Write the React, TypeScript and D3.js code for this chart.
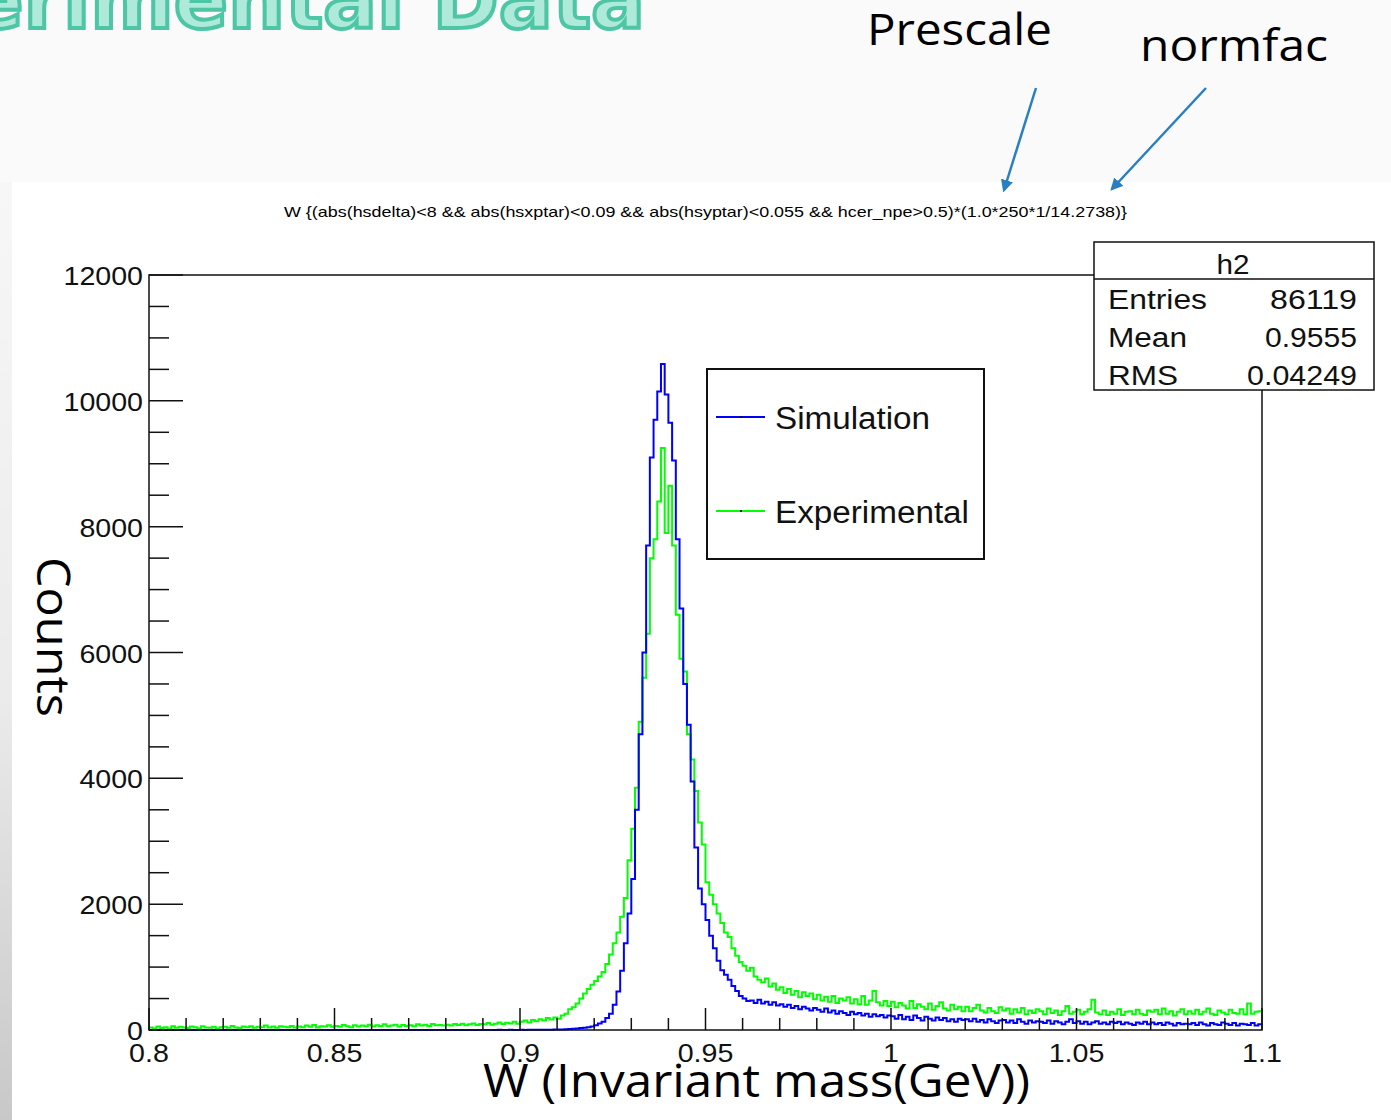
import * as d3 from "d3";
import React, { useEffect } from "react";

const width = 1391;
const height = 1120;

// histogram range, 1 MeV bins
const wMin = 0.8;
const wMax = 1.1;
const binWidth = 0.001;

// Simulation counts (blue), 300 bins from 0.800 to 1.100 GeV
const simulation = [
  0, 0, 0, 0, 0, 0, 0, 0, 0, 0,
  0, 0, 0, 0, 0, 0, 0, 0, 0, 0,
  0, 0, 0, 0, 0, 0, 0, 0, 0, 0,
  0, 0, 0, 0, 0, 0, 0, 0, 0, 0,
  0, 0, 0, 0, 0, 0, 0, 0, 0, 0,
  0, 0, 0, 0, 0, 0, 0, 0, 0, 0,
  0, 0, 0, 0, 0, 0, 0, 0, 0, 0,
  0, 0, 0, 0, 0, 0, 1, 0, 0, 0,
  0, 1, 0, 0, 0, 1, 0, 0, 1, 0,
  1, 0, 1, 0, 2, 1, 0, 2, 1, 1,
  2, 1, 3, 2, 3, 4, 3, 5, 4, 6,
  8, 9, 12, 14, 18, 24, 30, 34, 42, 55,
  75, 105, 130, 190, 260, 400, 610, 940, 1380, 1850,
  2400, 3500, 4700, 6000, 7700, 9100, 9700, 10150, 10585, 10100,
  9650, 9050, 7800, 6700, 5500, 4850, 3950, 2900, 2250, 2000,
  1750, 1500, 1300, 1100, 950, 880, 800, 700, 620, 540,
  500, 460, 470, 430, 480, 420, 450, 400, 440, 390,
  410, 370, 400, 350, 380, 330, 370, 340, 310, 350,
  320, 290, 340, 280, 310, 260, 300, 270, 240, 290,
  250, 270, 230, 260, 210, 250, 220, 240, 200, 230,
  220, 180, 240, 170, 210, 160, 230, 190, 150, 210,
  180, 150, 200, 160, 190, 140, 170, 130, 180, 160,
  170, 140, 180, 130, 160, 120, 170, 140, 110, 150,
  160, 120, 150, 110, 170, 130, 100, 150, 120, 140,
  130, 110, 150, 100, 140, 120, 90, 130, 170, 110,
  140, 100, 130, 90, 120, 140, 100, 120, 90, 130,
  110, 130, 90, 120, 100, 80, 120, 100, 130, 90,
  120, 90, 110, 80, 120, 100, 70, 110, 90, 100,
  90, 110, 80, 120, 90, 70, 110, 90, 80, 120,
  100, 80, 110, 70, 100, 90, 80, 110, 70, 90,
];

// Experimental counts (green), same binning
const experimental = [
  40, 25, 55, 30, 45, 20, 60, 35, 50, 40,
  30, 55, 45, 25, 60, 40, 35, 50, 20, 45,
  50, 35, 65, 40, 30, 55, 45, 60, 35, 50,
  45, 70, 40, 55, 35, 60, 50, 45, 65, 40,
  55, 45, 70, 50, 80, 40, 60, 55, 75, 50,
  65, 50, 80, 60, 45, 75, 55, 70, 60, 85,
  55, 75, 65, 90, 60, 70, 85, 55, 80, 65,
  75, 60, 90, 70, 85, 65, 95, 75, 80, 70,
  85, 70, 95, 80, 100, 75, 90, 105, 80, 95,
  90, 110, 85, 100, 120, 95, 115, 105, 130, 100,
  130, 150, 120, 160, 140, 170, 150, 190, 165, 200,
  180, 230, 260, 330, 360, 420, 500, 580, 650, 720,
  780, 850, 920, 1050, 1200, 1380, 1550, 1800, 2100, 2700,
  3200, 3850, 4900, 5600, 6300, 7500, 7800, 8400, 9250, 7900,
  8650, 7700, 6600, 5900, 5700, 4700, 4300, 3800, 3300, 2950,
  2350, 2150, 2000, 1850, 1700, 1550, 1480, 1300, 1180, 1080,
  1020, 940, 990, 850, 800, 760, 820, 690, 740, 640,
  680, 590, 650, 560, 620, 520, 600, 540, 580, 490,
  560, 470, 530, 450, 540, 430, 500, 470, 520, 420,
  490, 410, 540, 400, 470, 620, 440, 390, 460, 380,
  450, 360, 430, 390, 340, 460, 350, 410, 370, 330,
  420, 320, 380, 440, 340, 310, 400, 330, 370, 300,
  370, 300, 350, 400, 310, 280, 350, 300, 270, 360,
  310, 340, 260, 330, 280, 350, 250, 310, 270, 330,
  300, 250, 340, 270, 310, 240, 300, 380, 260, 290,
  320, 250, 290, 330, 480, 280, 250, 310, 240, 290,
  260, 330, 240, 290, 300, 250, 320, 260, 240, 310,
  290, 320, 250, 340, 260, 300, 230, 290, 330, 250,
  300, 260, 320, 250, 290, 340, 260, 240, 310, 280,
  250, 320, 270, 260, 330, 250, 420, 260, 290, 300,
];

const xTicks = [0.8, 0.85, 0.9, 0.95, 1, 1.05, 1.1];
const xTickLabels = ["0.8", "0.85", "0.9", "0.95", "1", "1.05", "1.1"];
const yTicks = [0, 2000, 4000, 6000, 8000, 10000, 12000];
const yTickLabels = ["0", "2000", "4000", "6000", "8000", "10000", "12000"];

const statNames = ["Entries", "Mean", "RMS"];
const statValues = ["86119", "0.9555", "0.04249"];

const legendLabels = ["Simulation", "Experimental"];
const legendColors = ["#0000ff", "#00ff00"];

const titleText =
  "W {(abs(hsdelta)<8 && abs(hsxptar)<0.09 && abs(hsyptar)<0.055 && hcer_npe>0.5)*(1.0*250*1/14.2738)}";

// rough helvetica advance widths, used to stretch text like the ROOT export
const helvWidth = (s: string) =>
  s.split("").reduce((a, c) => a + (c === "." ? 0.278 : 0.556), 0);

const App = () => {
  useEffect(() => {
    document.body.style.margin = "0";
    document.body.style.overflow = "hidden";
  }, []);

  const x = d3.scaleLinear().domain([wMin, wMax]).range([149, 1262]);
  const y = d3.scaleLinear().domain([0, 12000]).range([1030, 275]);

  const stepLine = d3
    .line<[number, number]>()
    .x((d) => x(d[0]))
    .y((d) => y(d[1]))
    .curve(d3.curveStepAfter);

  const histPath = (vals: number[]) =>
    stepLine([
      ...vals.map((v, i) => [wMin + i * binWidth, v] as [number, number]),
      [wMax, vals[vals.length - 1]],
    ]) || "";

  const xMinor = d3
    .range(0, 31)
    .filter((i) => i % 5 !== 0)
    .map((i) => wMin + i * 0.01);
  const yMinor = d3
    .range(0, 25)
    .filter((i) => i % 4 !== 0)
    .map((i) => i * 500);

  const helv = "'Liberation Sans', Arial, sans-serif";
  const slide = "'Open Sans', 'DejaVu Sans', sans-serif";
  const tickSize = 26;

  return (
    <svg width={width} height={height} style={{ display: "block" }}>
      <defs>
        <linearGradient id="strip" x1="0" y1="0" x2="0" y2="1">
          <stop offset="0" stopColor="#f7f7f7" />
          <stop offset="0.55" stopColor="#ebebeb" />
          <stop offset="1" stopColor="#c8c8c8" />
        </linearGradient>
        <marker
          id="arrow"
          viewBox="0 0 10 10"
          refX="8"
          refY="5"
          markerWidth="5"
          markerHeight="5"
          orient="auto"
        >
          <path d="M0,0 L10,5 L0,10 z" fill="#2a7fc0" />
        </marker>
      </defs>

      {/* slide background */}
      <rect width={width} height={height} fill="#fafafa" />
      <rect x={0} y={182} width={12} height={height - 182} fill="url(#strip)" />
      <rect x={12} y={182} width={width - 12} height={height - 182} fill="#ffffff" />

      <text
        x={645}
        y={28}
        textAnchor="end"
        fontFamily="'DejaVu Sans', sans-serif"
        fontWeight="bold"
        fontSize={80}
        fill="#aee9da"
        stroke="#4cc6a5"
        strokeWidth={4}
      >
        Experimental Data
      </text>

      <text x={867} y={45} fontFamily={slide} fontSize={44} textLength={185} lengthAdjust="spacingAndGlyphs" fill="#000">
        Prescale
      </text>
      <text x={1140} y={61} fontFamily={slide} fontSize={44} textLength={188} lengthAdjust="spacingAndGlyphs" fill="#000">
        normfac
      </text>
      <line x1={1036} y1={88} x2={1004} y2={190} stroke="#2a7fc0" strokeWidth={2.5} markerEnd="url(#arrow)" />
      <line x1={1206} y1={88} x2={1112} y2={189} stroke="#2a7fc0" strokeWidth={2.5} markerEnd="url(#arrow)" />

      {/* histogram title */}
      <text x={284} y={217} fontFamily={helv} fontSize={15} textLength={843} lengthAdjust="spacingAndGlyphs" fill="#000">
        {titleText}
      </text>

      {/* histograms */}
      <path d={histPath(experimental)} fill="none" stroke="#00ff00" strokeWidth={2} />
      <path d={histPath(simulation)} fill="none" stroke="#0000ff" strokeWidth={2} />

      {/* frame */}
      <rect
        x={x(wMin)}
        y={y(12000)}
        width={x(wMax) - x(wMin)}
        height={y(0) - y(12000)}
        fill="none"
        stroke="#111"
        strokeWidth={1.5}
      />

      {/* x ticks */}
      {xTicks.map((t) => (
        <line key={"xM" + t} x1={x(t)} x2={x(t)} y1={y(0)} y2={y(0) - 22} stroke="#111" strokeWidth={1.5} />
      ))}
      {xMinor.map((t) => (
        <line key={"xm" + t} x1={x(t)} x2={x(t)} y1={y(0)} y2={y(0) - 12} stroke="#111" strokeWidth={1.5} />
      ))}
      {xTicks.map((t, i) => (
        <text
          key={"xl" + t}
          x={x(t)}
          y={y(0) + 32}
          textAnchor="middle"
          fontFamily={helv}
          fontSize={tickSize}
          textLength={helvWidth(xTickLabels[i]) * tickSize * 1.1}
          lengthAdjust="spacingAndGlyphs"
          fill="#111"
        >
          {xTickLabels[i]}
        </text>
      ))}

      {/* y ticks */}
      {yTicks.map((t) => (
        <line key={"yM" + t} x1={x(wMin)} x2={x(wMin) + 34} y1={y(t)} y2={y(t)} stroke="#111" strokeWidth={1.5} />
      ))}
      {yMinor.map((t) => (
        <line key={"ym" + t} x1={x(wMin)} x2={x(wMin) + 20} y1={y(t)} y2={y(t)} stroke="#111" strokeWidth={1.5} />
      ))}
      {yTicks.map((t, i) => (
        <text
          key={"yl" + t}
          x={x(wMin) - 6}
          y={y(t) + 10}
          textAnchor="end"
          fontFamily={helv}
          fontSize={tickSize}
          textLength={helvWidth(yTickLabels[i]) * tickSize * 1.1}
          lengthAdjust="spacingAndGlyphs"
          fill="#111"
        >
          {yTickLabels[i]}
        </text>
      ))}

      {/* axis titles */}
      <text x={483} y={1097} fontFamily={slide} fontSize={46} textLength={547} lengthAdjust="spacingAndGlyphs" fill="#000">
        W (Invariant mass(GeV))
      </text>
      <text
        transform="translate(37,557) rotate(90)"
        x={0}
        y={0}
        fontFamily={slide}
        fontSize={46}
        textLength={160}
        lengthAdjust="spacingAndGlyphs"
        fill="#000"
      >
        Counts
      </text>

      {/* legend */}
      <rect x={707} y={369} width={277} height={190} fill="#fff" stroke="#111" strokeWidth={2} />
      {legendLabels.map((lab, i) => {
        const ly = 417 + i * 94;
        return (
          <g key={lab}>
            <line x1={716} x2={765} y1={ly} y2={ly} stroke={legendColors[i]} strokeWidth={2} />
            <rect x={740} y={ly - 1} width={2} height={2} fill="#111" />
            <text
              x={775}
              y={ly + 12}
              fontFamily={helv}
              fontSize={31}
              textLength={i === 0 ? 155 : 194}
              lengthAdjust="spacingAndGlyphs"
              fill="#111"
            >
              {lab}
            </text>
          </g>
        );
      })}

      {/* stats box */}
      <rect x={1094} y={242} width={280} height={148} fill="#fff" stroke="#111" strokeWidth={1.5} />
      <line x1={1094} x2={1374} y1={279} y2={279} stroke="#111" strokeWidth={1.5} />
      <text x={1233} y={274} textAnchor="middle" fontFamily={helv} fontSize={27} textLength={33} lengthAdjust="spacingAndGlyphs" fill="#111">
        h2
      </text>
      {statNames.map((n, i) => {
        const sy = 309 + i * 38;
        const nameW = [99, 79, 70][i];
        const valW = [87, 92, 110][i];
        return (
          <g key={n}>
            <text x={1108} y={sy} fontFamily={helv} fontSize={27} textLength={nameW} lengthAdjust="spacingAndGlyphs" fill="#111">
              {n}
            </text>
            <text x={1357} y={sy} textAnchor="end" fontFamily={helv} fontSize={27} textLength={valW} lengthAdjust="spacingAndGlyphs" fill="#111">
              {statValues[i]}
            </text>
          </g>
        );
      })}
    </svg>
  );
};

export default App;
